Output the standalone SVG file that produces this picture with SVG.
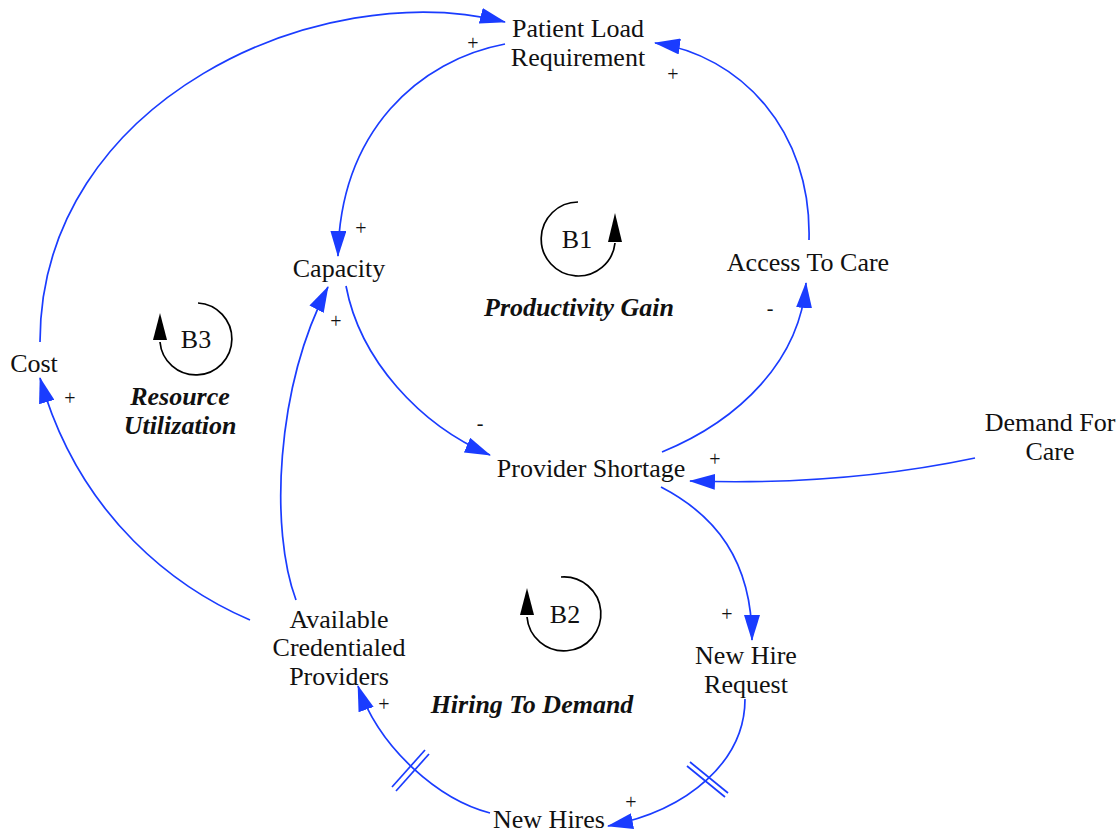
<svg xmlns="http://www.w3.org/2000/svg" width="1118" height="834" viewBox="0 0 1118 834">
  <style>
    .lbl { font-family: "Liberation Serif", "Times New Roman", serif; font-size: 26px; fill: #111; text-anchor: middle; }
    .loopname { font-family: "Liberation Serif", "Times New Roman", serif; font-size: 26px; font-weight: bold; font-style: italic; fill: #111; text-anchor: middle; }
    .pol { font-family: "Liberation Serif", "Times New Roman", serif; font-size: 20px; fill: #111; text-anchor: middle; }
    .link { fill: none; stroke: #1a3cff; stroke-width: 1.7; marker-end: url(#head); }
    .delay { stroke: #1a3cff; stroke-width: 1.7; }
    .loop { fill: none; stroke: #000; stroke-width: 1.7; }
  </style>
  <defs>
    <marker id="head" viewBox="0 0 26 16" refX="25" refY="8" markerWidth="26" markerHeight="16" markerUnits="userSpaceOnUse" orient="auto">
      <path d="M0,0 L26,8 L0,16 Z" fill="#1a3cff"/>
    </marker>
  </defs>

  <!-- connectors -->
  <g id="links">
    <path class="link" d="M40,342 C40,100 320,-25 505,22"/>
    <path class="link" d="M505,44 C420,60 340,130 338,256"/>
    <path class="link" d="M809,240 C812,130 740,55 655,43"/>
    <path class="link" d="M346,286 C360,360 420,425 490,455"/>
    <path class="link" d="M662,452 C740,420 800,360 806,283"/>
    <path class="link" d="M975,458 C880,478 780,484 690,481"/>
    <path class="link" d="M661,487 C715,515 752,560 752,640"/>
    <path class="link" d="M745,699 C745,760 690,810 608,826"/>
    <path class="link" d="M490,813 C440,800 380,750 358,686"/>
    <path class="link" d="M296,600 C270,530 275,390 328,287"/>
    <path class="link" d="M250,620 C180,590 80,520 40,378"/>
    <!-- delay marks -->
    <line class="delay" x1="392" y1="787" x2="425" y2="750"/>
    <line class="delay" x1="396" y1="791" x2="429" y2="754"/>
    <line class="delay" x1="687" y1="766" x2="725" y2="797"/>
    <line class="delay" x1="690" y1="762" x2="728" y2="793"/>
    <!-- polarities -->
    <text class="pol" x="473" y="50">+</text>
    <text class="pol" x="361" y="235">+</text>
    <text class="pol" x="673" y="81">+</text>
    <text class="pol" x="480" y="430">-</text>
    <text class="pol" x="770" y="315">-</text>
    <text class="pol" x="715" y="466">+</text>
    <text class="pol" x="727" y="621">+</text>
    <text class="pol" x="631" y="809">+</text>
    <text class="pol" x="384" y="711">+</text>
    <text class="pol" x="336" y="328">+</text>
    <text class="pol" x="70" y="405">+</text>
  </g>

  <!-- variables -->
  <g id="patient-load-requirement">
    <text class="lbl" x="578" y="37">Patient Load</text>
    <text class="lbl" x="578" y="66">Requirement</text>
  </g>
  <g id="capacity"><text class="lbl" x="339" y="277">Capacity</text></g>
  <g id="access-to-care"><text class="lbl" x="808" y="271">Access To Care</text></g>
  <g id="cost"><text class="lbl" x="34" y="372">Cost</text></g>
  <g id="provider-shortage"><text class="lbl" x="591" y="477">Provider Shortage</text></g>
  <g id="demand-for-care">
    <text class="lbl" x="1050" y="431">Demand For</text>
    <text class="lbl" x="1050" y="460">Care</text>
  </g>
  <g id="available-credentialed-providers">
    <text class="lbl" x="339" y="628">Available</text>
    <text class="lbl" x="339" y="656">Credentialed</text>
    <text class="lbl" x="339" y="685">Providers</text>
  </g>
  <g id="new-hire-request">
    <text class="lbl" x="746" y="664">New Hire</text>
    <text class="lbl" x="746" y="693">Request</text>
  </g>
  <g id="new-hires"><text class="lbl" x="549" y="828">New Hires</text></g>

  <!-- loop markers -->
  <g id="loop-b1">
    <path class="loop" d="M578,202 A37,37 0 1,0 615,243"/>
    <polygon points="608,242 622,242 615,213" fill="#000"/>
    <text class="lbl" x="577" y="248">B1</text>
    <text class="loopname" x="579" y="316">Productivity Gain</text>
  </g>
  <g id="loop-b3">
    <path class="loop" d="M198,303 A36,36 0 1,1 160,342"/>
    <polygon points="153,340 167,340 160,313" fill="#000"/>
    <text class="lbl" x="196" y="348">B3</text>
    <text class="loopname" x="180" y="405">Resource</text>
    <text class="loopname" x="180" y="434">Utilization</text>
  </g>
  <g id="loop-b2">
    <path class="loop" d="M561,577 A37,37 0 1,1 527,617"/>
    <polygon points="520,615 534,615 527,588" fill="#000"/>
    <text class="lbl" x="565" y="623">B2</text>
    <text class="loopname" x="532" y="713">Hiring To Demand</text>
  </g>
</svg>
